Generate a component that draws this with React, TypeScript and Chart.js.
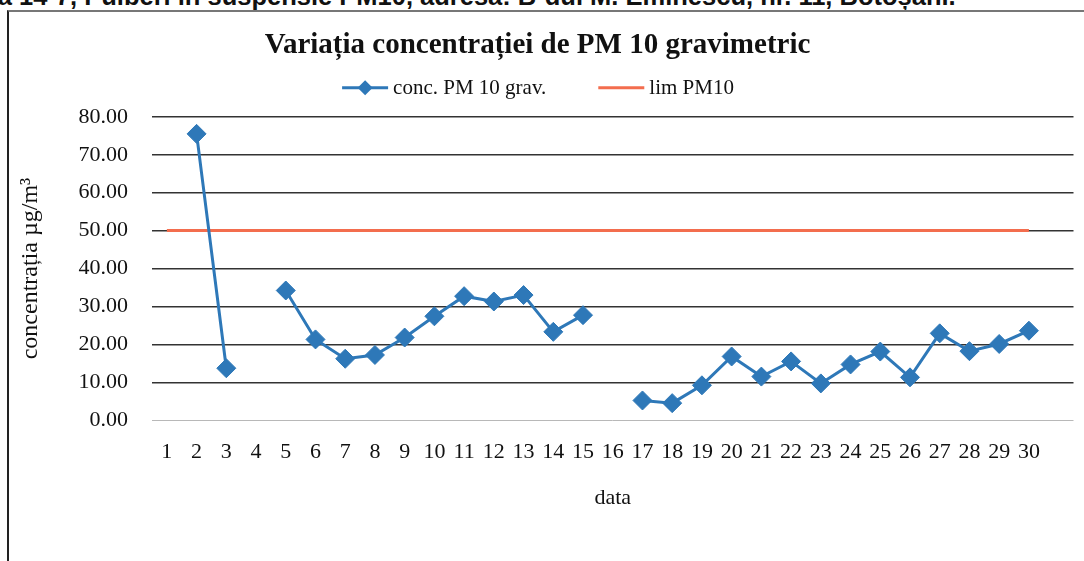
import React, { useEffect, useRef } from "react";
import { Chart, registerables } from "chart.js";

Chart.register(...registerables);

const dayLabels = [
  "1", "2", "3", "4", "5", "6", "7", "8", "9", "10",
  "11", "12", "13", "14", "15", "16", "17", "18", "19", "20",
  "21", "22", "23", "24", "25", "26", "27", "28", "29", "30", "",
];

const pm10Values: (number | null)[] = [
  null, 75.5, 13.7, null, 34.2, 21.3, 16.2, 17.2, 21.8, 27.4,
  32.7, 31.3, 33.0, 23.3, 27.7, null, 5.2, 4.5, 9.2, 16.8,
  11.5, 15.5, 9.7, 14.7, 18.1, 11.3, 22.9, 18.2, 20.1, 23.6, null,
];

const limValues: (number | null)[] = [
  50, 50, 50, 50, 50, 50, 50, 50, 50, 50,
  50, 50, 50, 50, 50, 50, 50, 50, 50, 50,
  50, 50, 50, 50, 50, 50, 50, 50, 50, 50, null,
];

const yMin = 0;
const yMax = 80;
const yStep = 10;

const chartTitle = "Variația concentrației de PM 10 gravimetric";
const seriesNames = ["conc. PM 10 grav.", "lim PM10"];
const yAxisTitle = "concentrația µg/m³";
const xAxisTitle = "data";
const pageCaption =
  "Figura 14-7, Pulberi în suspensie PM10, adresa: B-dul M. Eminescu, nr. 11, Botoșani.";

const SERIF = '"Liberation Serif", "Times New Roman", serif';
const BLUE = "#2e78b8";
const RED = "#f36d4e";

const legendPlugin = {
  id: "seriesLegend",
  afterDraw(chart: any) {
    const { ctx, chartArea } = chart;
    const ds = chart.data.datasets;
    const fontSize = 21;
    const lineLen = 46;
    const textGap = 5;
    const itemGap = 52;
    ctx.save();
    ctx.font = `${fontSize}px ${SERIF}`;
    ctx.textBaseline = "middle";
    ctx.textAlign = "left";
    const widths = ds.map(
      (d: any) => lineLen + textGap + ctx.measureText(d.label).width
    );
    const total =
      widths.reduce((a: number, b: number) => a + b, 0) +
      itemGap * (ds.length - 1);
    let x = chart.width / 2 - 4 - total / 2;
    const y = chartArea.top - 29;
    ds.forEach((d: any, i: number) => {
      ctx.strokeStyle = d.borderColor;
      ctx.lineWidth = d.borderWidth;
      ctx.beginPath();
      ctx.moveTo(x, y);
      ctx.lineTo(x + lineLen, y);
      ctx.stroke();
      if (d.pointRadius > 0) {
        const r = 7.5;
        const cx = x + lineLen / 2;
        ctx.fillStyle = d.pointBackgroundColor;
        ctx.beginPath();
        ctx.moveTo(cx - r, y);
        ctx.lineTo(cx, y - r);
        ctx.lineTo(cx + r, y);
        ctx.lineTo(cx, y + r);
        ctx.closePath();
        ctx.fill();
      }
      ctx.fillStyle = "#111";
      ctx.fillText(d.label, x + lineLen + textGap, y + 1);
      x += widths[i] + itemGap;
    });
    ctx.restore();
  },
};

function PMChart() {
  const canvasRef = useRef<HTMLCanvasElement | null>(null);

  useEffect(() => {
    const canvas = canvasRef.current;
    if (!canvas) return;
    const chart = new Chart(canvas, {
      type: "line",
      data: {
        labels: dayLabels,
        datasets: [
          {
            label: seriesNames[0],
            data: pm10Values,
            borderColor: BLUE,
            backgroundColor: BLUE,
            pointBackgroundColor: BLUE,
            pointBorderColor: BLUE,
            borderWidth: 3,
            pointStyle: "rectRot",
            pointRadius: 9.5,
            pointBorderWidth: 1,
            spanGaps: false,
            tension: 0,
          } as any,
          {
            label: seriesNames[1],
            data: limValues,
            borderColor: RED,
            backgroundColor: RED,
            borderWidth: 3,
            pointRadius: 0,
            spanGaps: false,
            tension: 0,
          } as any,
        ],
      },
      options: {
        responsive: false,
        animation: false,
        devicePixelRatio: 1,
        layout: { padding: { left: 0, right: 9, top: 0, bottom: 0 } },
        plugins: {
          legend: { display: false },
          tooltip: { enabled: false },
          title: {
            display: true,
            text: chartTitle,
            color: "#111",
            font: { family: SERIF, size: 29, weight: "bold" },
            padding: { top: 28, bottom: 54 },
          },
        },
        scales: {
          x: {
            type: "category",
            offset: true,
            grid: { display: false, drawTicks: false },
            border: { display: false },
            ticks: {
              autoSkip: false,
              maxRotation: 0,
              minRotation: 0,
              padding: 19,
              color: "#111",
              font: { family: SERIF, size: 22 },
            },
            title: {
              display: true,
              text: xAxisTitle,
              color: "#111",
              font: { family: SERIF, size: 22 },
              padding: { top: 0, bottom: 50 },
            },
          },
          y: {
            min: yMin,
            max: yMax,
            afterFit: (scale: any) => {
              scale.width = 152;
            },
            grid: {
              drawTicks: false,
              color: (c: any) => (c.tick && c.tick.value === 0 ? "#b8b8b8" : "#333"),
              lineWidth: (c: any) => (c.tick && c.tick.value === 0 ? 1 : 1.5),
            },
            border: { display: false },
            ticks: {
              stepSize: yStep,
              padding: 24,
              color: "#111",
              font: { family: SERIF, size: 22 },
              callback: (v: any) => Number(v).toFixed(2),
            },
            title: {
              display: true,
              text: yAxisTitle,
              color: "#111",
              font: { family: SERIF, size: 24 },
              padding: { top: 16, bottom: 0 },
            },
          },
        },
      },
      plugins: [legendPlugin],
    });
    return () => chart.destroy();
  }, []);

  return (
    <canvas
      ref={canvasRef}
      width={1084}
      height={561}
      style={{ position: "absolute", left: 0, top: 0, display: "block" }}
    />
  );
}

export default function App() {
  return (
    <div
      style={{
        position: "absolute",
        left: 0,
        top: 0,
        width: 1084,
        height: 561,
        overflow: "hidden",
        background: "#fff",
      }}
    >
      <div
        style={{
          position: "absolute",
          left: -66,
          top: -16,
          whiteSpace: "nowrap",
          fontFamily: '"Liberation Sans", Arial, sans-serif',
          fontWeight: "bold",
          fontSize: 25.5,
          lineHeight: "25px",
          color: "#111",
        }}
      >
        {pageCaption}
      </div>
      <div
        style={{
          position: "absolute",
          left: 7,
          top: 10,
          width: 1100,
          height: 600,
          borderLeft: "2px solid #222",
          borderTop: "2px solid #777",
        }}
      />
      <PMChart />
    </div>
  );
}
